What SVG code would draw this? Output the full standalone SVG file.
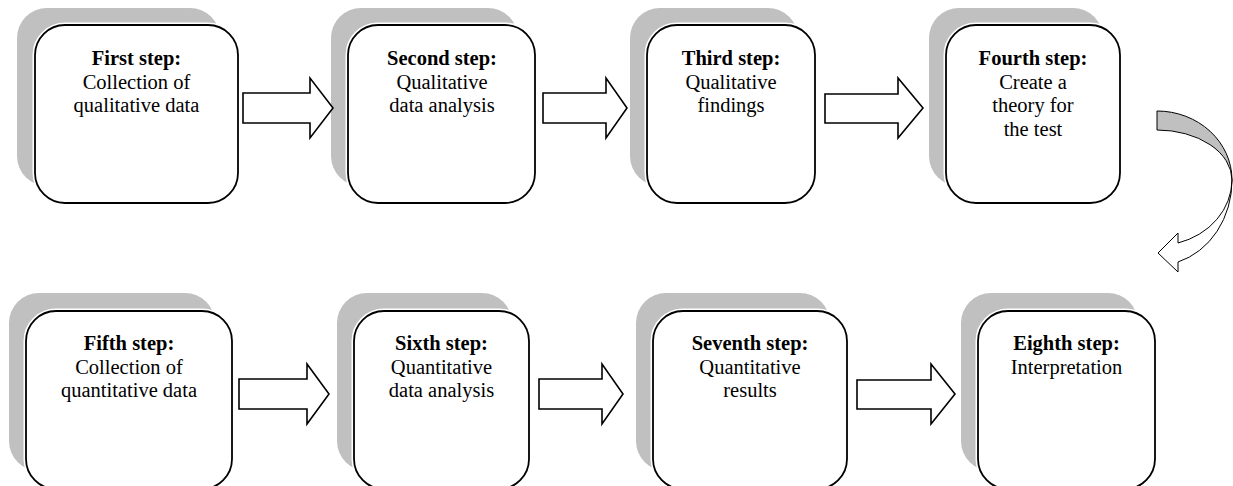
<svg xmlns="http://www.w3.org/2000/svg" width="1233" height="486" viewBox="0 0 1233 486">
  <style>
    .shadow { fill: #c0c0c0; }
    .box { fill: #ffffff; stroke: #000000; stroke-width: 1.8; }
    .halo { fill: none; stroke: #ffffff; stroke-width: 5; }
    .arrow { fill: #ffffff; stroke: #000000; stroke-width: 1.6; stroke-linejoin: miter; }
    .curl-back { fill: #c0c0c0; stroke: #000000; stroke-width: 1; }
    .curl-front { fill: #ffffff; stroke: #000000; stroke-width: 1; }
    text { font-family: "Liberation Serif", "Times New Roman", serif; font-size: 20.5px; fill: #000000; text-anchor: middle; }
    .title { font-weight: bold; }
  </style>

  <!-- Top row -->
  <g id="step1">
    <rect class="shadow" x="17" y="8" width="203" height="178" rx="30"/>
    <rect class="halo" x="35" y="25" width="203" height="178" rx="30"/>
    <rect class="box" x="35" y="25" width="203" height="178" rx="30"/>
    <text x="136.5" y="65"><tspan class="title">First step:</tspan><tspan x="136.5" dy="23.5">Collection of</tspan><tspan x="136.5" dy="23.5">qualitative data</tspan></text>
  </g>

  <g id="step2">
    <rect class="shadow" x="331" y="8" width="187" height="178" rx="30"/>
    <rect class="halo" x="348" y="25" width="187" height="178" rx="30"/>
    <rect class="box" x="348" y="25" width="187" height="178" rx="30"/>
    <text x="442" y="65"><tspan class="title">Second step:</tspan><tspan x="442" dy="23.5">Qualitative</tspan><tspan x="442" dy="23.5">data analysis</tspan></text>
  </g>

  <g id="step3">
    <rect class="shadow" x="630" y="8" width="168" height="178" rx="30"/>
    <rect class="halo" x="647" y="25" width="168" height="178" rx="30"/>
    <rect class="box" x="647" y="25" width="168" height="178" rx="30"/>
    <text x="731" y="65"><tspan class="title">Third step:</tspan><tspan x="731" dy="23.5">Qualitative</tspan><tspan x="731" dy="23.5">findings</tspan></text>
  </g>

  <g id="step4">
    <rect class="shadow" x="929" y="8" width="174" height="178" rx="30"/>
    <rect class="halo" x="946" y="25" width="174" height="178" rx="30"/>
    <rect class="box" x="946" y="25" width="174" height="178" rx="30"/>
    <text x="1033" y="65"><tspan class="title">Fourth step:</tspan><tspan x="1033" dy="23.5">Create a</tspan><tspan x="1033" dy="23.5">theory for</tspan><tspan x="1033" dy="23.5">the test</tspan></text>
  </g>

  <!-- Bottom row -->
  <g id="step5">
    <rect class="shadow" x="9" y="293" width="206" height="178" rx="30"/>
    <rect class="halo" x="26" y="311" width="206" height="178" rx="30"/>
    <rect class="box" x="26" y="311" width="206" height="178" rx="30"/>
    <text x="129" y="350"><tspan class="title">Fifth step:</tspan><tspan x="129" dy="23.5">Collection of</tspan><tspan x="129" dy="23.5">quantitative data</tspan></text>
  </g>

  <g id="step6">
    <rect class="shadow" x="337" y="293" width="175" height="178" rx="30"/>
    <rect class="halo" x="354" y="311" width="175" height="178" rx="30"/>
    <rect class="box" x="354" y="311" width="175" height="178" rx="30"/>
    <text x="441.5" y="350"><tspan class="title">Sixth step:</tspan><tspan x="441.5" dy="23.5">Quantitative</tspan><tspan x="441.5" dy="23.5">data analysis</tspan></text>
  </g>

  <g id="step7">
    <rect class="shadow" x="636" y="293" width="194" height="178" rx="30"/>
    <rect class="halo" x="653" y="311" width="194" height="178" rx="30"/>
    <rect class="box" x="653" y="311" width="194" height="178" rx="30"/>
    <text x="750" y="350"><tspan class="title">Seventh step:</tspan><tspan x="750" dy="23.5">Quantitative</tspan><tspan x="750" dy="23.5">results</tspan></text>
  </g>

  <g id="step8">
    <rect class="shadow" x="961" y="293" width="177" height="178" rx="30"/>
    <rect class="halo" x="978" y="311" width="177" height="178" rx="30"/>
    <rect class="box" x="978" y="311" width="177" height="178" rx="30"/>
    <text x="1066.5" y="350"><tspan class="title">Eighth step:</tspan><tspan x="1066.5" dy="23.5">Interpretation</tspan></text>
  </g>

  <!-- Connectors: block arrows between steps and the curved turn-around arrow -->
  <g id="connectors">
    <polygon class="arrow" points="243,93 310,93 310,78 333,108 310,138 310,123 243,123"/>
    <polygon class="arrow" points="543,93 606,93 606,78 627,108 606,138 606,123 543,123"/>
    <polygon class="arrow" points="825,94 898,94 898,78 923,108 898,138 898,123 825,123"/>

    <polygon class="arrow" points="239,379 307,379 307,364 329,394 307,424 307,409 239,409"/>
    <polygon class="arrow" points="539,379 602,379 602,364 623,394 602,424 602,409 539,409"/>
    <polygon class="arrow" points="857,380 931,380 931,364 955,394 931,424 931,409 857,409"/>

    <!-- curved arrow: lower (front) band with head -->
    <path class="curl-front" d="M 1232,180 A 75,85 0 0 1 1178,262 L 1178,272 L 1158,253 L 1178,233 L 1178,243 A 75,66 0 0 0 1232,180 Z"/>
    <!-- curved arrow: upper (back) band from the tail -->
    <path class="curl-back" d="M 1157,111 A 75,69 0 0 1 1232,180 A 75,50 0 0 0 1157,130 Z"/>
  </g>
</svg>
